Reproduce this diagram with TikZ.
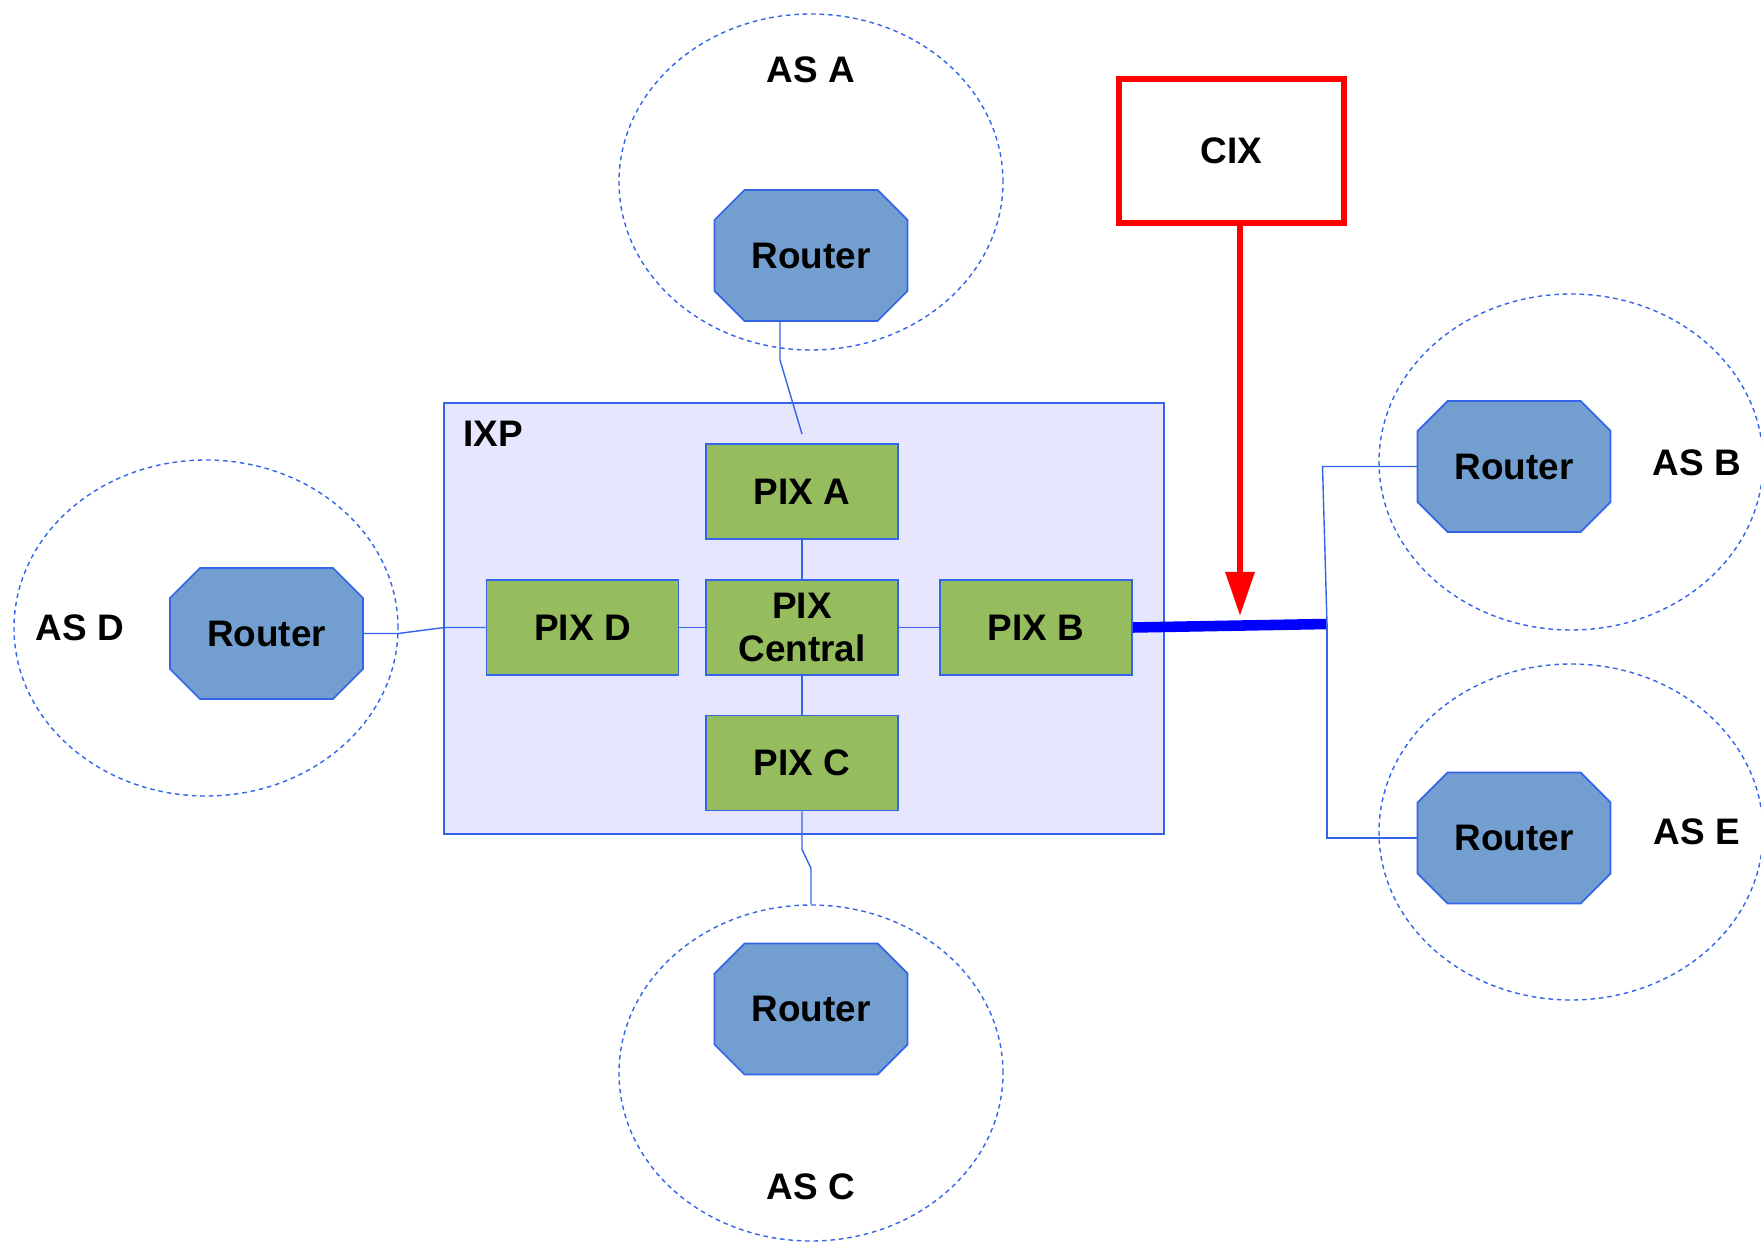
\documentclass[tikz,border=0pt]{standalone}
\usepackage{fontspec}
\setmainfont{Liberation Sans}
\usetikzlibrary{shapes.geometric,arrows.meta,backgrounds}

\definecolor{routerfill}{HTML}{729FCF}
\definecolor{pixfill}{HTML}{95BD5E}
\definecolor{edgeblue}{HTML}{3465E8}
\definecolor{ixpfill}{HTML}{E6E6FF}

\tikzset{
  router/.style={rectangle, minimum width=1.93cm, minimum height=1.31cm,
    inner sep=0pt, outer sep=0pt},
  routerbody/.style={draw=edgeblue, fill=routerfill, line width=0.5pt},
  pix/.style={rectangle, draw=edgeblue, fill=pixfill, minimum width=1.92cm,
    minimum height=0.95cm, inner sep=0pt, align=center, line width=0.5pt},
  asring/.style={ellipse, draw=edgeblue, dash pattern=on 1.3pt off 1.1pt,
    line width=0.4pt, minimum width=3.84cm, minimum height=3.36cm, inner sep=0pt},
  link/.style={draw=edgeblue, line width=0.4pt},
}

\begin{document}
\begin{tikzpicture}[font=\bfseries\fontsize{10.5}{12.4}\selectfont]
\useasboundingbox (0,0) rectangle (17.61,-12.42);

% exchange point and its switches
\node[draw=edgeblue, fill=ixpfill, minimum width=7.20cm, minimum height=4.31cm, line width=0.5pt] (ixp) at (8.04,-6.185) {};
\node (ixplabel) at (4.93,-4.34) {IXP};

\node[pix] (pixA) at (8.02,-4.915) {PIX A};
\node[pix] (pixD) at (5.825,-6.275) {PIX D};
\node[pix] (pixM) at (8.02,-6.275) {PIX\\Central};
\node[pix] (pixB) at (10.36,-6.275) {PIX B};
\node[pix] (pixC) at (8.02,-7.63) {PIX C};

% autonomous systems
\node[asring] (ringA) at (8.11,-1.82) {};
\node[asring] (ringD) at (2.06,-6.28) {};
\node[asring] (ringB) at (15.71,-4.62) {};
\node[asring] (ringE) at (15.71,-8.32) {};
\node[asring] (ringC) at (8.11,-10.73) {};

\node[router] (rtA) at (8.11,-2.555) {Router};
\node[router] (rtD) at (2.665,-6.335) {Router};
\node[router] (rtB) at (15.14,-4.665) {Router};
\node[router] (rtE) at (15.14,-8.38) {Router};
\node[router] (rtC) at (8.11,-10.09) {Router};

% octagonal router bodies behind the labels
\begin{scope}[on background layer]
\foreach \r in {rtA,rtB,rtC,rtD,rtE}
  \path[routerbody] ([xshift=3mm]\r.north west) -- ([xshift=-3mm]\r.north east)
    -- ([yshift=-3mm]\r.north east) -- ([yshift=3mm]\r.south east)
    -- ([xshift=-3mm]\r.south east) -- ([xshift=3mm]\r.south west)
    -- ([yshift=3mm]\r.south west) -- ([yshift=-3mm]\r.north west) -- cycle;
\end{scope}

\node (asA) at (8.11,-0.70) {AS A};
\node (asD) at (0.80,-6.28) {AS D};
\node (asB) at (16.97,-4.63) {AS B};
\node (asE) at (16.97,-8.32) {AS E};
\node (asC) at (8.11,-11.87) {AS C};

% commercial exchange
\node[draw=red, line width=1.8pt, minimum width=2.25cm, minimum height=1.44cm] (cix) at (12.315,-1.51) {CIX};

\coordinate (bus) at (13.27,-6.24);
\coordinate (cixtip) at (12.40,-6.16);

% links
\draw[link] (pixA) -- (pixM);
\draw[link] (pixD) -- (pixM);
\draw[link] (pixM) -- (pixB);
\draw[link] (pixM) -- (pixC);

\draw[link] ([xshift=-0.31cm]rtA.south) -- ++(0,-0.39) -- ([yshift=0.09cm]pixA.north);
\draw[link] (rtD.east) -- ++(0.35,0) -- ([xshift=-0.41cm]pixD.west) -- (pixD.west);
\draw[link] (pixC.south) -- ++(0,-0.38) -- ++(0.09,-0.19) -- (ringC.north);

\draw[blue, line width=3pt] (pixB.east) -- (bus);
\draw[link] (bus) -- ([xshift=-0.95cm]rtB.west) -- (rtB.west);
\draw[link] (bus) |- (rtE.west);

\draw[red, line width=1.8pt, -{Triangle[length=0.44cm,width=0.28cm]}] (cixtip |- cix.south) -- (cixtip);
\end{tikzpicture}
\end{document}
